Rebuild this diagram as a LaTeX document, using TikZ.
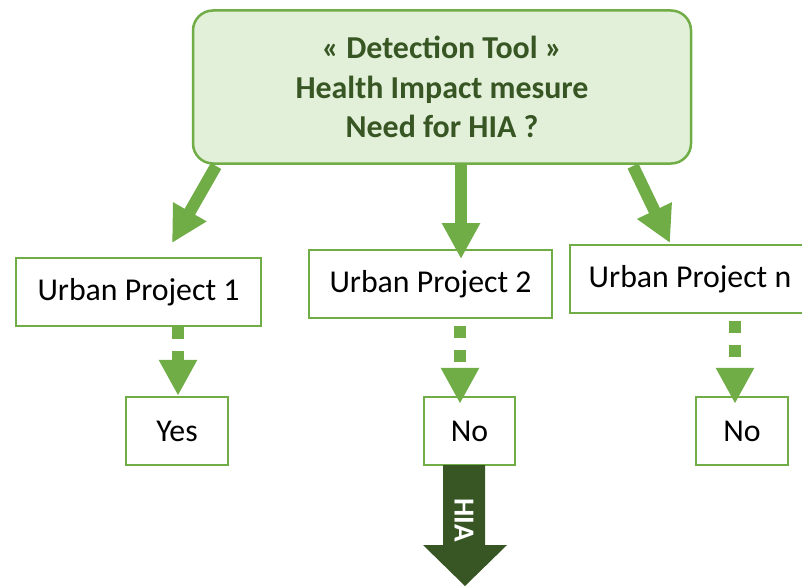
\documentclass[tikz,border=0pt]{standalone}
\usepackage{fontspec}
\setmainfont{Carlito}
\usetikzlibrary{arrows.meta}
\definecolor{gr}{HTML}{70AD47}
\definecolor{lgr}{HTML}{E2F0D9}
\definecolor{dgr}{HTML}{375623}
\begin{document}
\begin{tikzpicture}[x=1pt,y=-1pt,
  box/.style={draw=gr, line width=2.5pt, fill=white, inner sep=0pt, minimum height=68pt,
    font=\fontsize{31.8}{36}\selectfont},
  bigarrow/.style={draw=gr, line width=12pt, -{Triangle[width=36pt,length=36pt]}},
  dasharrow/.style={draw=gr, line width=12pt, dash pattern=on 12pt off 12pt,
    -{Triangle[width=36pt,length=36pt]}}]
\useasboundingbox (0,0) rectangle (802,586);

\node[draw=gr, fill=lgr, line width=2.5pt, rounded corners=20pt, minimum width=498pt,
  minimum height=153pt, align=center, text=dgr,
  font=\bfseries\fontsize{31.9}{39.5}\selectfont] (top) at (442,87)
  {« Detection Tool »\\Health Impact mesure\\Need for HIA ?};
\useasboundingbox (0,0) rectangle (802,586);

\node[box, minimum width=245pt] (p1) at (138.5,292) {Urban Project 1};
\node[box, minimum width=243pt] (p2) at (430.5,284) {Urban Project 2};
\node[box, minimum width=240pt] (pn) at (690,279) {Urban Project n};

\node[box, minimum width=102pt] (yes) at (177,431) {Yes};
\node[box, minimum width=91pt] (no2) at (469.5,431) {No};
\node[box, minimum width=92pt] (non) at (742,431) {No};

% solid arrows from the top box
\coordinate (a1s) at (216,166);
\coordinate (a1e) at (172,243);
\coordinate (a2e) at (461,259);
\coordinate (a3s) at (633,166);
\coordinate (a3e) at (670,243);
\draw[bigarrow] (a1s) -- (a1e);
\draw[bigarrow] (a2e |- top.south) -- (a2e);
\draw[bigarrow] (a3s) -- (a3e);

% dashed arrows
\coordinate (d1) at (178,0);
\coordinate (d2) at (460,0);
\coordinate (d3) at (735,0);
\draw[dasharrow, dash phase=0pt] (d1 |- p1.south) -- (d1 |- yes.north);
\draw[dasharrow, dash phase=17pt, shorten >=-8pt] (d2 |- p2.south) -- (d2 |- no2.north);
\draw[dasharrow, dash phase=17pt, shorten >=-8pt] (d3 |- pn.south) -- (d3 |- non.north);

% HIA arrow
\coordinate (h) at (no2.south);
\fill[dgr] (443,465) -- (485,465) -- (485,545) -- (507,545) -- (465,586)
  -- (423,545) -- (443,545) -- cycle;
\node[rotate=-90, text=white, font=\bfseries\fontsize{29}{34}\selectfont] (hia) at (464,520) {HIA};
\end{tikzpicture}
\end{document}
